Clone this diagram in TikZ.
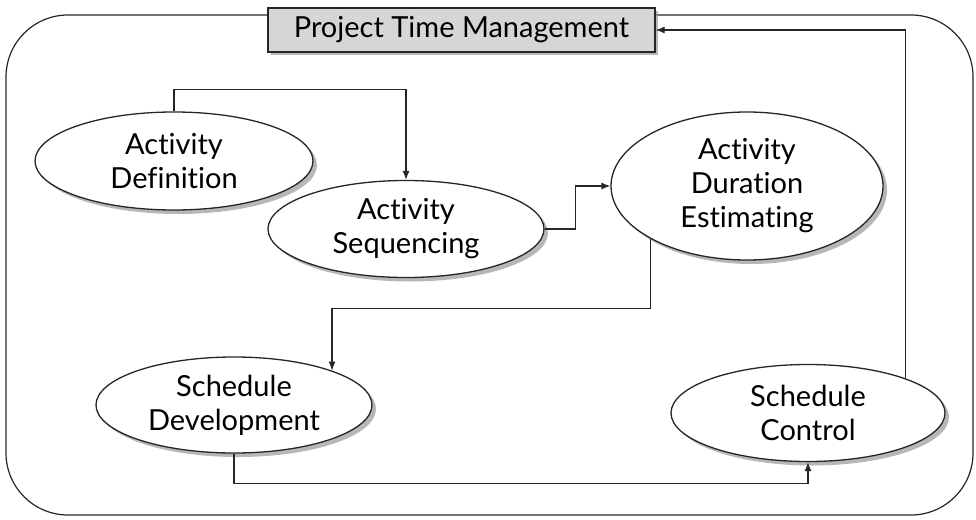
\documentclass[tikz,border=0pt]{standalone}
\usepackage{fontspec}
\setmainfont{Lato}[Ligatures={NoCommon}]
\usetikzlibrary{shapes.geometric,shadows,arrows.meta}
\begin{document}
\begin{tikzpicture}[x=1pt,y=-1pt,
  ln/.style={draw=black!85,line width=1.3pt},
  proc/.style={ln,ellipse,fill=white,inner sep=0pt,align=center,
    font=\fontsize{29}{34}\selectfont,
    drop shadow={shadow xshift=4pt,shadow yshift=-4pt,fill=black!40,opacity=0.7}},
  titlebox/.style={ln,rectangle,fill=black!16,inner sep=0pt,
    minimum width=387pt,minimum height=44pt,
    font=\fontsize{29}{32}\selectfont,
    drop shadow={shadow xshift=3pt,shadow yshift=-3pt,fill=black!40,opacity=0.7}},
  arr/.style={ln,line width=1.1pt,-{Latex[length=9pt,width=7pt]}},
  frame/.style={ln,line width=1.2pt,rounded corners=62pt}]
\useasboundingbox (0,0) rectangle (976,519);
\draw[frame] (6,15) rectangle (973,515);
\node[titlebox] (title) at (461.5,30) {Project Time Management};
\node[proc,minimum width=278pt,minimum height=98pt] (defn) at (174,161) {Activity\\Definition};
\node[proc,minimum width=276pt,minimum height=97pt] (seq) at (406,229) {Activity\\Sequencing};
\node[proc,minimum width=272pt,minimum height=148pt] (dur) at (747,186) {Activity\\Duration\\Estimating};
\node[proc,minimum width=276pt,minimum height=96pt] (sdev) at (234,405) {Schedule\\Development};
\node[proc,minimum width=274pt,minimum height=97pt] (sctl) at (808,413) {Schedule\\Control};
\draw[arr] (defn.north) -- ++(0,-22) -| (seq.north);
\draw[arr] (seq.east) -- ++(31,0) |- (dur.west);
\draw[arr] (dur.south west) -- ++(0,70) -| (sdev.north east);
\draw[arr] (sdev.south) -- ++(0,30) -| (sctl.south);
\draw[arr] (sctl.north east) |- (title.east);
\end{tikzpicture}
\end{document}
